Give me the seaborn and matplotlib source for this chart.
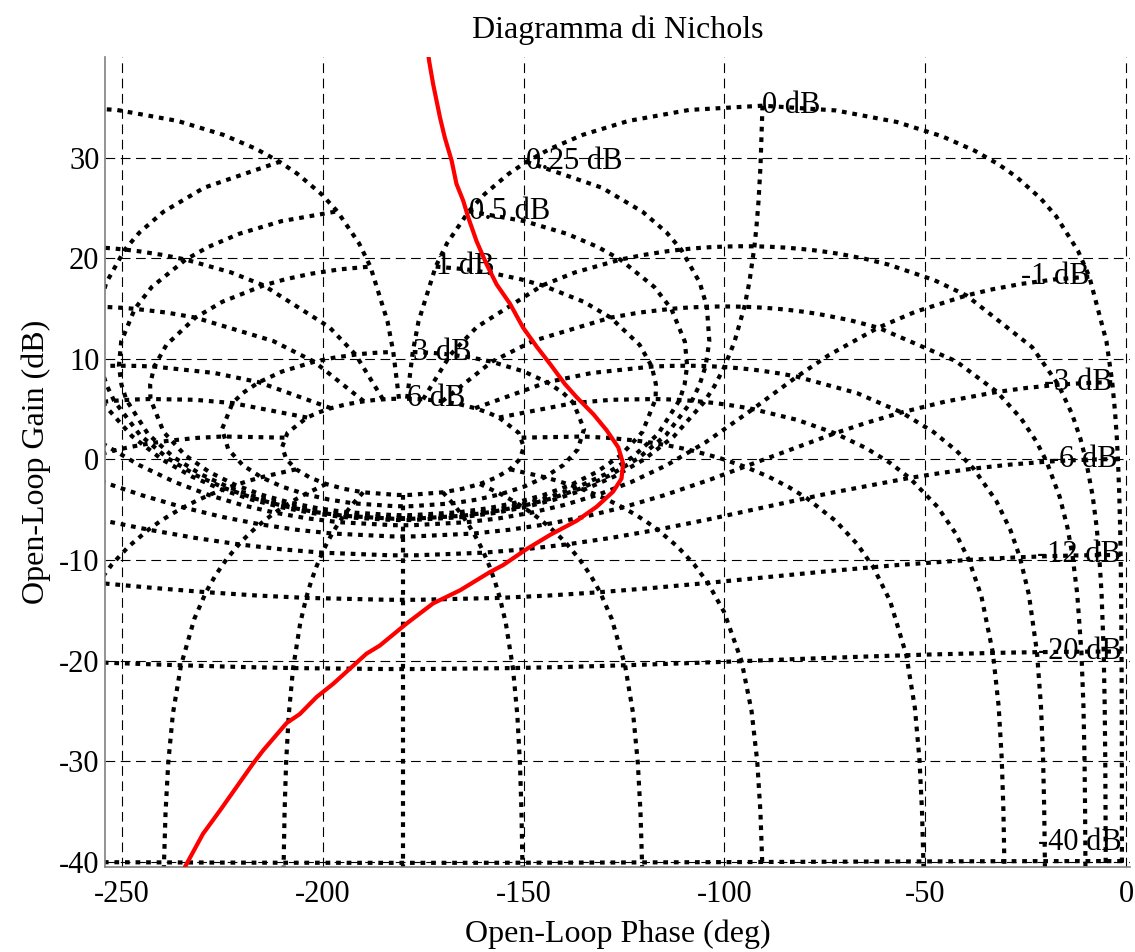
import numpy as np
import matplotlib
matplotlib.use("Agg")
import matplotlib.pyplot as plt
import seaborn as sns
import pandas as pd

# Livelli della griglia di Nichols (modulo e fase ad anello chiuso)
m_db = [6, 3, 1, 0.5, 0.25, 0, -1, -3, -6, -12, -20, -40]
n_deg = [1, 5, 10, 20, 30, 50, 90, 120, 150, 180]

# Campionamento lungo le curve (come ngrid)
p_samples = [1, 2, 3, 4, 5, 7.5, 10, 15, 20, 25, 30, 45, 60, 75, 90,
             105, 120, 135, 150, 175, 180]
g_samples = [6, 3, 2, 1, .75, .5, .4, .3, .25, .2, .15, .1, .05, 0, -.05,
             -.1, -.15, -.2, -.25, -.3, -.4, -.5, -.75, -1, -2, -3, -4, -5,
             -6, -8, -10, -12, -15, -20, -25, -30, -35, -40, -50, -60]

# Risposta ad anello aperto
ol_phase = [-173.8, -173.5, -172.5, -170.8, -169.6, -167.9, -166.7, -165.0,
            -163.8, -161.7, -159.2, -156.7, -153.4, -150.1, -146.7, -143.4,
            -139.7, -136.8, -132.6, -129.3, -126.4, -125.2, -125.6, -127.7,
            -131.8, -136.8, -143.4, -149.2, -155.1, -158.4, -165.8, -172.5,
            -179.1, -185.8, -189.1, -197.4, -201.5, -205.7, -209.0, -214.8,
            -217.3, -225.6, -229.8, -234.3, -235.0]
ol_gain = [40.5, 39.6, 37.3, 34.0, 32.0, 29.7, 27.4, 25.7,
           24.1, 21.7, 19.4, 17.4, 15.5, 13.1, 11.2, 9.5,
           7.5, 6.2, 4.5, 2.9, 1.2, -0.4, -1.9, -3.2,
           -4.7, -6.1, -7.5, -8.9, -10.5, -11.2, -13.0, -14.3,
           -16.3, -18.5, -19.3, -22.3, -23.6, -25.3, -26.2, -28.9,
           -30.2, -34.9, -37.2, -40.5, -41.3]

XLIM = (-254.2, 1.0)
YLIM = (-40.5, 40.0)


def open_loop(m_lin, p_deg):
    """Punto ad anello aperto per T = m*exp(-j*p)."""
    z = m_lin * np.exp(-1j * np.deg2rad(p_deg))
    phase = -p_deg - np.rad2deg(np.angle(1 - z))
    gain = 20 * np.log10(m_lin / np.abs(1 - z))
    return phase, gain


sns.set_style("white")
plt.rcParams['font.family'] = ['Liberation Serif', 'DejaVu Serif']
plt.rcParams['lines.scale_dashes'] = False
plt.rcParams['axes.unicode_minus'] = False
plt.rcParams['text.color'] = 'black'
plt.rcParams['axes.labelcolor'] = 'black'
plt.rcParams['xtick.color'] = 'black'
plt.rcParams['ytick.color'] = 'black'

fig = plt.figure(figsize=(11.35, 9.52), dpi=100)
ax = fig.add_axes([105 / 1135, 85 / 952, 1025 / 1135, 810 / 952])

dot = (0, (3.4, 4.2))
grid_kw = dict(color='black', linestyle=dot, linewidth=3.0, zorder=2)

# curve a modulo costante
p_full = np.array(p_samples + [360 - p for p in p_samples[-2::-1]])
for m in m_db:
    ph, g = open_loop(10 ** (m / 20), p_full)
    ax.plot(ph, g, **grid_kw)

# curve a fase costante (e simmetriche rispetto a -180)
g_lin = 10 ** (np.array(g_samples) / 20)
for n in n_deg:
    ph, g = open_loop(g_lin, n)
    ax.plot(ph, g, **grid_kw)
    if n != 180:
        ax.plot(-360 - ph, g, **grid_kw)

# etichette
for m in m_db:
    ph, g = open_loop(10 ** (m / 20), 1.0)
    g = max(g, YLIM[0] + 2.4)
    ax.text(ph, g, f"{m:g} dB", fontsize=22, ha='left' if m >= 0 else 'right',
            va='center', zorder=3)

df = pd.DataFrame({"phase": ol_phase, "gain": ol_gain})
sns.lineplot(data=df, x="phase", y="gain", sort=False, estimator=None,
             color='red', linewidth=3.0, ax=ax, zorder=4)

ax.set_xlim(*XLIM)
ax.set_ylim(*YLIM)
ax.set_xticks(np.arange(-250, 1, 50))
ax.set_yticks(np.arange(-40, 31, 10))
ax.grid(True, color='black', linestyle=(0, (7, 4)), linewidth=0.8)
ax.set_axisbelow(True)
ax.tick_params(direction='in', length=5, color='0.5', labelsize=22)
ax.tick_params(axis='x', pad=9)
ax.tick_params(axis='y', pad=4)
for side in ['top', 'right']:
    ax.spines[side].set_visible(False)
for side in ['left', 'bottom']:
    ax.spines[side].set_color('0.5')
    ax.spines[side].set_linewidth(1.2)

ax.set_xlabel("Open-Loop Phase (deg)", fontsize=23, labelpad=8)
ax.set_ylabel("Open-Loop Gain (dB)", fontsize=23, labelpad=6)
ax.set_title("Diagramma di Nichols", fontsize=23, pad=14)

fig.savefig("out.png", dpi=100)
